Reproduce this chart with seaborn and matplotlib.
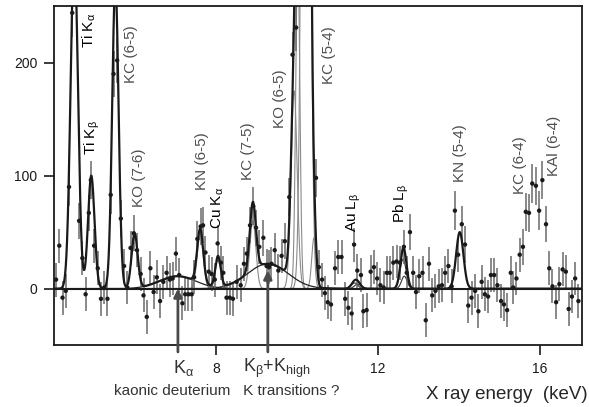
import numpy as np
import pandas as pd
import matplotlib
matplotlib.use("Agg")
import matplotlib.pyplot as plt
import seaborn as sns

# measured spectrum (bin centre in keV, counts per bin, error)
energy = [4.05, 4.13, 4.21, 4.29, 4.37, 4.45, 4.53, 4.62, 4.70, 4.78,
          4.86, 4.91, 4.99, 5.08, 5.16, 5.24, 5.32, 5.40, 5.47, 5.56,
          5.65, 5.73, 5.81, 5.89, 5.97, 6.05, 6.14, 6.21, 6.29, 6.38,
          6.46, 6.54, 6.62, 6.70, 6.78, 6.86, 6.93, 7.01, 7.09, 7.17,
          7.24, 7.32, 7.40, 7.46, 7.54, 7.62, 7.68, 7.74, 7.82, 7.89,
          7.97, 8.04, 8.12, 8.18, 8.26, 8.34, 8.42, 8.51, 8.61, 8.69,
          8.76, 8.84, 8.92, 8.99, 9.07, 9.17, 9.25, 9.31, 9.37, 9.45,
          9.54, 9.62, 9.70, 9.81, 9.89, 9.98, 10.06, 10.14, 10.22, 10.31,
          10.39, 10.47, 10.54, 10.62, 10.69, 10.76, 10.84, 10.94, 11.02, 11.10,
          11.19, 11.27, 11.35, 11.41, 11.49, 11.58, 11.64, 11.72, 11.82, 11.90,
          11.98, 12.06, 12.14, 12.22, 12.29, 12.38, 12.46, 12.54, 12.64, 12.71,
          12.79, 12.87, 12.94, 13.02, 13.10, 13.18, 13.26, 13.34, 13.42, 13.50,
          13.58, 13.66, 13.74, 13.82, 13.90, 13.98, 14.07, 14.15, 14.23, 14.31,
          14.40, 14.48, 14.56, 14.64, 14.72, 14.79, 14.87, 14.95, 15.04, 15.11,
          15.19, 15.28, 15.34, 15.42, 15.50, 15.58, 15.65, 15.73, 15.81, 15.90,
          15.98, 16.06, 16.15, 16.23, 16.31, 16.40, 16.48, 16.56, 16.64, 16.71,
          16.79, 16.87, 16.95]
counts = [8, 38, -8, -2, 90, 244, 320, 60, 27, -5,
          67, 96, 38, 18, -9, 1, -9, 83, 190, 202,
          62, 20, 1, 36, 49, 34, 13, -6, -25, 18,
          -3, 10, -11, 6, 14, 8, 9, 31, 12, -13,
          -5, -5, -5, 10, 44, 55, 56, 32, 15, 13,
          8, 40, 23, 14, -8, -8, -9, 6, 3, 22,
          31, 56, 73, 54, 37, 45, 20, 19, 22, 34,
          16, 29, 42, 81, 207, 231, 320, 420, 520, 400,
          280, 98, 19, 8, -4, -12, -14, 18, 28, 28,
          -9, -17, -22, 39, 16, 12, -20, -19, 15, 19,
          9, 3, 1, 14, 14, 23, 24, 23, 37, 14,
          50, 14, -3, 11, 14, -28, 22, -6, -2, 2,
          3, 14, 20, 2, 69, 30, 57, 39, -15, -8,
          -2, -20, 6, -5, -7, 12, 12, 3, -11, -14,
          -19, 14, 1, 9, 30, 37, 68, 67, 93, 91,
          69, 96, 57, 18, 2, -12, 4, 17, 15, -18,
          -7, 9, -11]
errors = [15, 15, 15, 15, 17, 21, 22, 16, 15, 15,
          16, 17, 15, 15, 15, 15, 15, 17, 20, 20,
          16, 15, 15, 15, 16, 15, 15, 15, 15, 15,
          15, 15, 15, 15, 15, 15, 15, 15, 15, 15,
          15, 15, 15, 15, 16, 16, 16, 15, 15, 15,
          15, 16, 15, 15, 15, 15, 15, 15, 15, 15,
          15, 16, 17, 16, 15, 16, 15, 15, 15, 15,
          15, 15, 16, 17, 20, 21, 22, 24, 25, 24,
          22, 17, 15, 15, 15, 15, 15, 15, 15, 15,
          15, 15, 15, 15, 15, 15, 15, 15, 15, 15,
          15, 15, 15, 15, 15, 15, 15, 15, 15, 15,
          16, 15, 15, 15, 15, 15, 15, 15, 15, 15,
          15, 15, 15, 15, 17, 15, 16, 16, 15, 15,
          15, 15, 15, 15, 15, 15, 15, 15, 15, 15,
          15, 15, 15, 15, 15, 16, 17, 17, 17, 17,
          17, 17, 16, 15, 15, 15, 15, 15, 15, 15,
          15, 15, 15]

# fitted lines: centre (keV), height (counts), sigma (keV), how drawn
peak_centre = [4.50, 4.92, 5.515, 5.99, 7.61, 8.05, 8.91, 9.93, 10.02, 10.22, 10.42,
               11.42, 11.50, 12.62, 12.65, 14.02]
peak_height = [300, 100, 270, 48, 48, 27, 60, 175, 300, 1200, 45,
               5, 4, 26, 11, 50]
peak_sigma = [0.09, 0.08, 0.078, 0.075, 0.075, 0.065, 0.075, 0.075, 0.05, 0.082, 0.055,
              0.08, 0.08, 0.075, 0.07, 0.09]
peak_kind = ['main', 'main', 'main', 'main', 'gray', 'gray', 'gray', 'gray', 'gray', 'gray', 'gray',
             'thin', 'thin', 'thin', 'thin', 'main']
# broad kaonic deuterium K_alpha and K_beta+K_high components
broad_centre = [7.05, 9.28]
broad_height = [11, 22]
broad_sigma = [0.45, 0.50]

# line labels
label_text = ['Ti K$_\\alpha$', 'Ti K$_\\beta$', 'KC (6-5)', 'KO (7-6)', 'KN (6-5)',
              'Cu K$_\\alpha$', 'KC (7-5)', 'KO (6-5)', 'KC (5-4)', 'Au L$_\\beta$',
              'Pb L$_\\beta$', 'KN (5-4)', 'KC (6-4)', 'KAl (6-4)']
label_x = [4.86, 4.94, 5.89, 6.10, 7.65, 8.05, 8.80, 9.58, 10.78, 11.40,
           12.57, 14.02, 15.50, 16.35]
label_y = [213, 118, 182, 72, 87, 53, 96, 142, 181, 50,
           58, 94, 84, 100]
label_dark = [True, True, False, False, False, True, False, False, False, True,
              True, False, False, False]

# arrows for kaonic deuterium
arrow_x = [7.06, 9.28]
arrow_tip = [0, 16]

sns.set_theme(style="ticks")
plt.rcParams['font.family'] = ['Liberation Sans', 'DejaVu Sans']
plt.rcParams['mathtext.fontset'] = 'custom'
plt.rcParams['mathtext.rm'] = 'Liberation Sans'
plt.rcParams['mathtext.it'] = 'Liberation Sans:italic'
plt.rcParams['mathtext.bf'] = 'Liberation Sans:bold'
plt.rcParams['mathtext.default'] = 'regular'

fig = plt.figure(figsize=(5.89, 4.07), dpi=100)
ax = fig.add_axes([0.0917, 0.152, 0.8965, 0.833])

grid = np.linspace(4.0, 17.04, 2600)
total = np.zeros_like(grid)
for c, h, s, k in zip(peak_centre, peak_height, peak_sigma, peak_kind):
    comp = h * np.exp(-(grid - c) ** 2 / (2 * s ** 2))
    total += comp
    if k == 'gray':
        ax.plot(grid, comp, color='#8a8a8a', lw=0.8, zorder=1)
    elif k == 'thin':
        ax.plot(grid, comp, color='#333333', lw=0.8, zorder=1)
for c, h, s in zip(broad_centre, broad_height, broad_sigma):
    comp = h * np.exp(-(grid - c) ** 2 / (2 * s ** 2))
    total += comp
    ax.plot(grid, comp, color='#222222', lw=0.9, zorder=1)

sns.lineplot(x=grid, y=total, color='k', lw=1.6, ax=ax, sort=False, estimator=None, zorder=3)

ax.errorbar(energy, counts, yerr=errors, fmt='none', ecolor='#6a6a6a',
            elinewidth=1.1, capsize=0, zorder=2)
sns.scatterplot(x=energy, y=counts, color='k', s=10, edgecolor='none', ax=ax, zorder=4)

ax.axhline(0, color='k', lw=1.5, zorder=2)

for t, x, y, dark in zip(label_text, label_x, label_y, label_dark):
    ax.text(x, y, t, rotation=90, ha='center', va='bottom', fontsize=11,
            color='black' if dark else '#505050')

for x, tip in zip(arrow_x, arrow_tip):
    ax.annotate('', xy=(x, tip), xytext=(x, -56), annotation_clip=False,
                arrowprops=dict(arrowstyle='-|>', color='#4a4a4a', lw=2,
                                mutation_scale=12, shrinkA=0, shrinkB=0))

trans = ax.get_xaxis_transform()
ax.text(7.19, -0.068, 'K$_\\alpha$', transform=trans, ha='center', va='center',
        fontsize=13, color='#333333')
ax.text(9.51, -0.068, 'K$_\\beta$+K$_{high}$', transform=trans, ha='center', va='center',
        fontsize=13, color='#333333')
ax.text(8.26, -0.136, 'kaonic deuterium   K transitions ?', transform=trans,
        ha='center', va='center', fontsize=11, color='#333333')
fig.text(0.997, 0.0295, 'X ray energy  (keV)', ha='right', va='center', fontsize=13.5)

ax.set_xlim(4.0, 17.04)
ax.set_ylim(-50, 250)
ax.set_xticks([8, 12, 16])
ax.set_yticks([0, 100, 200])
ax.set_xlabel('')
ax.set_ylabel('')
ax.tick_params(direction='out', length=7, width=1.2, labelsize=10, pad=5, colors='k')
for sp in ax.spines.values():
    sp.set_visible(True)
    sp.set_linewidth(1.3)
    sp.set_color('k')

fig.savefig('out.png', dpi=100)
